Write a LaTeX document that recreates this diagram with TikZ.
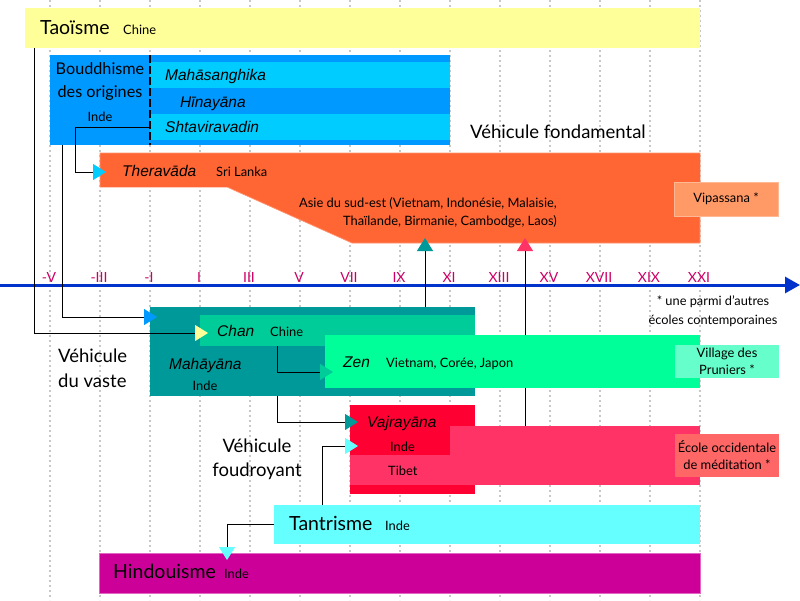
\documentclass[tikz,border=0pt]{standalone}
\usepackage{fontspec}
\setmainfont{Lato}
\newfontfamily\itf{Liberation Sans}
\usetikzlibrary{arrows.meta,calc}
\definecolor{cTao}{HTML}{FFFF99}
\definecolor{cBud}{HTML}{0099FF}
\definecolor{cBudd}{HTML}{00CCFF}
\definecolor{cThera}{HTML}{FF6633}
\definecolor{cVip}{HTML}{FF9966}
\definecolor{cMaha}{HTML}{009999}
\definecolor{cChan}{HTML}{00CC99}
\definecolor{cZen}{HTML}{00FF99}
\definecolor{cVill}{HTML}{66FFCC}
\definecolor{cVaj}{HTML}{FF0033}
\definecolor{cTib}{HTML}{FF3366}
\definecolor{cEcole}{HTML}{FF6666}
\definecolor{cTan}{HTML}{66FFFF}
\definecolor{cHin}{HTML}{CC0099}
\definecolor{cAxis}{HTML}{0033CC}
\definecolor{cCent}{HTML}{CC0066}
\definecolor{cGrid}{HTML}{C8C8C8}
\tikzset{
  box/.style={anchor=north west, inner sep=0pt, outer sep=0pt, draw=none},
  gridline/.style={draw=cGrid, line width=1.2pt, dash pattern=on 2pt off 3pt},
  dashline/.style={draw=black, line width=2.4pt, dash pattern=on 8pt off 3pt},
  conn/.style={draw=black, line width=1pt},
  big/.style={font=\fontsize{19.5}{21}\selectfont, inner sep=0pt, anchor=base west},
  mid/.style={font=\fontsize{16.2}{19}\selectfont, inner sep=0pt, anchor=base west},
  veh/.style={font=\fontsize{18.5}{21}\selectfont, inner sep=0pt, anchor=base west},
  sm/.style={font=\fontsize{12.9}{14}\selectfont, inner sep=0pt, anchor=base west},
  it/.style={font=\itf\itshape\fontsize{15.5}{17}\selectfont, inner sep=0pt, anchor=base west},
  cent/.style={font=\fontsize{14}{15}\selectfont, text=cCent, inner sep=0pt, anchor=base},
  note/.style={font=\fontsize{12.8}{18.5}\selectfont, inner sep=0pt, align=center},
}
\begin{document}
\begin{tikzpicture}[x=1pt,y=-1pt]
\useasboundingbox (0,0) rectangle (800,600);
\fill[white] (0,0) rectangle (800,600);
% grid
\foreach \k in {1,...,14} \draw[gridline] (50*\k,0) -- (50*\k,600);

% Taoisme
\node[box, fill=cTao, minimum width=675pt, minimum height=40pt] (tao) at (25,8) {};
\node[big] (taoT) at (40,34) {Taoïsme};
\node[sm] (taoC) at (123,34) {Chine};

% Bouddhisme des origines
\node[box, fill=cBud, minimum width=400pt, minimum height=90pt] (bud) at (50,55) {};
\node[box, fill=cBudd, minimum width=300pt, minimum height=26pt] (mahas) at (150,62) {};
\node[box, fill=cBud, minimum width=300pt, minimum height=26pt] (hina) at (150,88) {};
\node[box, fill=cBudd, minimum width=300pt, minimum height=26pt] (shta) at (150,114) {};
\draw[dashline] (mahas.west |- bud.north) -- (mahas.west |- bud.south);
\node[mid, anchor=base] (budT1) at (100,74) {Bouddhisme};
\node[mid, anchor=base] (budT2) at (100,97) {des origines};
\node[sm, anchor=base] (budI) at (100,121) {Inde};
\node[it] (mahasT) at (165,80) {Mahāsanghika};
\node[it] (hinaT) at (180,107) {Hīnayāna};
\node[it] (shtaT) at (165,132) {Shtaviravadin};
\node[veh] (vfond) at (470,138) {Véhicule fondamental};

% Theravada
\fill[cThera, draw=cThera!70!white, line width=0.7pt] (100,153) -- (700,153) -- (700,243) -- (352,243) -- (227,187) -- (100,187) -- cycle;
\node[box, fill=cThera, minimum width=599pt, minimum height=33pt] (thera) at (100.5,153.5) {};
\node[it] (theraT) at (122,176) {Theravāda};
\node[sm] (theraC) at (216,176) {Sri Lanka};
\node[sm, anchor=base east] (asie1) at (557,207) {Asie du sud-est (Vietnam, Indonésie, Malaisie,};
\node[sm, anchor=base east] (asie2) at (557,225) {Thaïlande, Birmanie, Cambodge, Laos)};
\node[box, fill=cVip, draw=cVip!70!white, line width=0.6pt, minimum width=104pt, minimum height=34pt, font=\fontsize{12.9}{14}\selectfont] (vip) at (674,182) {Vipassana *};

% axis
\coordinate (axL) at (0,285);
\coordinate (axR) at (800,285);
\draw[draw=cAxis, line width=3pt, -{Triangle[length=15pt,width=16pt]}] (axL) -- (axR);
\foreach \lab [count=\i] in {-V,-III,-I,I,III,V,VII,IX,XI,XIII,XV,XVII,XIX,XXI}
  \node[cent] (cent\i) at (50*\i-1,282) {\lab};
\node[note] (note) at (713,311) {* une parmi d'autres\\écoles contemporaines};

% Vajrayana boxes and pink connector (behind Zen)
\node[box, fill=cVaj, minimum width=125pt, minimum height=89pt] (vaj) at (350,405) {};
\node[box, fill=cTib, minimum width=250pt, minimum height=59pt] (tibbig) at (450,426) {};
\node[box, fill=cTib, minimum width=100pt, minimum height=30pt] (tib) at (350,455) {};
\draw[conn, -{Triangle[length=13pt,width=16pt,color=cTib]}] ($(tibbig.north west)+(75,0)$) -- ($(thera.north west)+(424.5,84.5)$);

% Mahayana
\node[box, fill=cMaha, minimum width=325pt, minimum height=89pt] (maha) at (150,307) {};
\node[box, fill=cChan, minimum width=275pt, minimum height=31pt] (chan) at (200,315) {};
\node[box, fill=cZen, minimum width=375pt, minimum height=53pt] (zen) at (325,335) {};
\node[box, fill=cVill, minimum width=104pt, minimum height=33pt, font=\fontsize{12.9}{17}\selectfont, align=center] (vill) at (675,345) {Village des\\Pruniers *};
\node[it] (chanT) at (217,336) {Chan};
\node[sm] (chanC) at (270,336) {Chine};
\node[it] (mahaT) at (169,369) {Mahāyāna};
\node[sm, anchor=base] (mahaI) at (205,390) {Inde};
\node[it] (zenT) at (343,367) {Zen};
\node[sm] (zenC) at (386,367) {Vietnam, Corée, Japon};
\node[veh] (vvaste1) at (58,362) {Véhicule};
\node[veh] (vvaste2) at (58,387) {du vaste};

% Vajrayana texts
\node[it] (vajT) at (367,427) {Vajrayāna};
\node[sm] (vajI) at (390,451) {Inde};
\node[sm] (vajC) at (388,475) {Tibet};
\node[box, fill=cEcole, minimum width=104pt, minimum height=43pt, font=\fontsize{12.9}{17}\selectfont, align=center] (ecole) at (675,434) {École occidentale\\de méditation *};
\node[veh, anchor=base] (vfoud1) at (257,452) {Véhicule};
\node[veh, anchor=base] (vfoud2) at (257,476) {foudroyant};

% Tantrisme, Hindouisme
\node[box, fill=cTan, minimum width=426pt, minimum height=39pt] (tan) at (274,505) {};
\node[big] (tanT) at (289,530) {Tantrisme};
\node[sm] (tanC) at (385,530) {Inde};
\node[box, fill=cHin, draw=cHin!60!white, line width=0.6pt, minimum width=601pt, minimum height=40pt] (hin) at (99,553) {};
\node[big] (hinT) at (113,578) {Hindouisme};
\node[sm] (hinC) at (224,578) {Inde};

% connectors
\draw[conn, -{Triangle[length=13pt,width=16pt,color=cTao]}] ($(tao.south west)+(9,0)$) |- ($(chan.north west)+(8,18)$);
\draw[conn, -{Triangle[length=13pt,width=16pt,color=cBud]}] ($(bud.south west)+(12,0)$) |- ($(maha.north west)+(7,10)$);
\draw[conn, -{Triangle[length=13pt,width=16pt,color=cBudd]}] (shta.west) -- ($(bud.west |- shta.west)+(25,0)$) |- ($(thera.west)+(5.5,2)$);
\draw[conn, -{Triangle[length=13pt,width=16pt,color=cChan]}] ($(chan.south west)+(77,0)$) |- ($(zen.west)+(8,10.5)$);
\draw[conn, -{Triangle[length=13pt,width=16pt,color=cMaha]}] ($(maha.south west)+(127,0)$) |- ($(vaj.north west)+(8,17)$);
\draw[conn, -{Triangle[length=13pt,width=16pt,color=cTan]}] ($(tan.north west)+(48,0)$) |- ($(vaj.north west)+(8,41)$);
\draw[conn, -{Triangle[length=13pt,width=16pt,color=cTan]}] (tan.west) -| ($(hin.north west)+(128,7)$);
\draw[conn, -{Triangle[length=13pt,width=16pt,color=cMaha]}] ($(maha.north west)+(275,0)$) -- ($(thera.north west)+(324.5,84.5)$);
\end{tikzpicture}
\end{document}
